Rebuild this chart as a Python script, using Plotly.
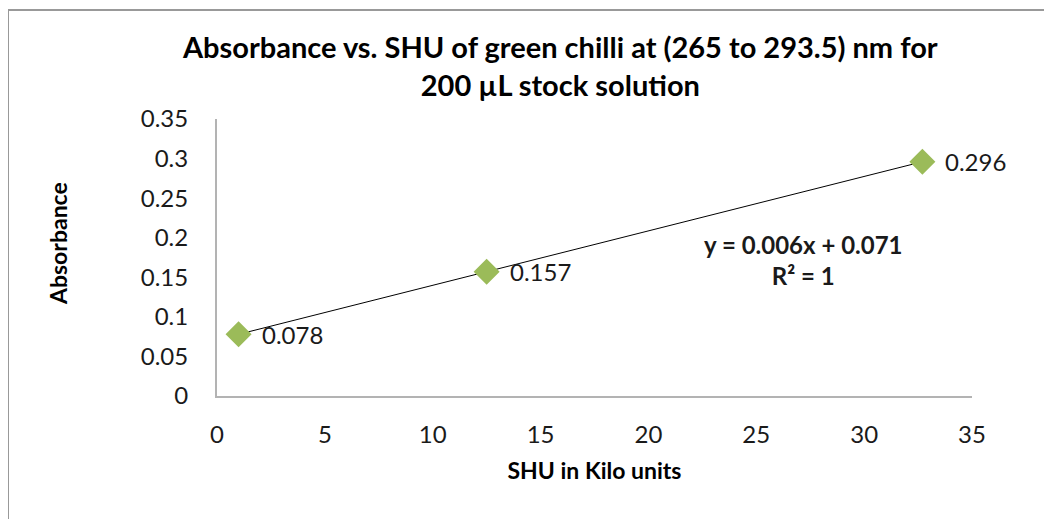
import numpy as np
import plotly.graph_objects as go

# Data
shu_kilo = [1.0, 12.5, 32.7]
absorbance = [0.078, 0.157, 0.296]
point_labels = ["0.078", "0.157", "0.296"]
x_ticks = [0, 5, 10, 15, 20, 25, 30, 35]
y_ticks = [0, 0.05, 0.1, 0.15, 0.2, 0.25, 0.3, 0.35]
y_tick_text = ["0", "0.05", "0.1", "0.15", "0.2", "0.25", "0.3", "0.35"]
equation_text = "y = 0.006x + 0.071<br>R² = 1"

FONT = "Lato"
W, H = 1052, 519
OFF = 8  # page body margin offset
ML, MR, MT, MB = 217 - OFF, 80 + OFF, 119 - OFF, 123 + OFF
PW = W - ML - MR
PH = H - MT - MB
Y0 = 396  # screen pixel of y=0


def px_x(sx):
    return (sx - 217) / PW


def px_y(sy):
    return (Y0 - sy) / PH


slope, intercept = np.polyfit(shu_kilo, absorbance, 1)
trend_x = [min(shu_kilo), max(shu_kilo)]
trend_y = [slope * v + intercept for v in trend_x]

fig = go.Figure()
fig.add_trace(go.Scatter(x=trend_x, y=trend_y, mode="lines",
                         line=dict(color="black", width=1), hoverinfo="skip",
                         showlegend=False))
fig.add_trace(go.Scatter(x=shu_kilo, y=absorbance, mode="markers",
                         marker=dict(symbol="diamond", size=20, color="#9BBB59"),
                         showlegend=False))

for xv, yv, t in zip(shu_kilo, absorbance, point_labels):
    fig.add_annotation(x=xv, y=yv, text=t, showarrow=False, xanchor="left",
                       yanchor="middle", xshift=21,
                       font=dict(family=FONT, size=24, color="#1a1a1a"))

fig.add_annotation(x=px_x(803), y=px_y(260), xref="paper", yref="paper",
                   text=equation_text, showarrow=False, align="center",
                   xanchor="center", yanchor="middle",
                   font=dict(family=FONT, size=24, color="#1a1a1a", weight="bold"))

fig.add_annotation(x=px_x(560), y=px_y(66), xref="paper", yref="paper",
                   text="Absorbance vs. SHU of green chilli at (265 to 293.5) nm for<br>200 µL stock solution",
                   showarrow=False, align="center", xanchor="center", yanchor="middle",
                   font=dict(family=FONT, size=29, color="black", weight="bold"))

# y-axis title
fig.add_annotation(x=px_x(58), y=px_y(244), xref="paper", yref="paper",
                   text="Absorbance", textangle=-90, showarrow=False,
                   xanchor="center", yanchor="middle",
                   font=dict(family=FONT, size=23, color="black", weight="bold"))

# outer frame (left and top edges visible)
x_left = px_x(8)
y_top = px_y(10)
fig.add_shape(type="line", xref="paper", yref="paper", x0=x_left, x1=x_left,
              y0=y_top, y1=-2, line=dict(color="#999999", width=2))
fig.add_shape(type="line", xref="paper", yref="paper", x0=x_left, x1=2,
              y0=y_top, y1=y_top, line=dict(color="#999999", width=2))

fig.update_layout(
    width=W, height=H,
    margin=dict(l=ML, r=MR, t=MT, b=MB),
    paper_bgcolor="white", plot_bgcolor="white",
    font=dict(family=FONT, size=24, color="#1a1a1a"),
    xaxis=dict(range=[0, 35], tickvals=x_ticks, showgrid=False, zeroline=False,
               showline=True, linecolor="#b3b3b3", linewidth=2, ticks="",
               ticklabelstandoff=16, tickfont=dict(size=24),
               title=dict(text="SHU in Kilo units", standoff=16,
                          font=dict(family=FONT, size=23, weight="bold", color="black"))),
    yaxis=dict(range=[0, 0.35], tickvals=y_ticks, ticktext=y_tick_text, showgrid=False,
               zeroline=False, showline=True, linecolor="#b3b3b3", linewidth=2,
               ticks="", ticklabelstandoff=22, tickfont=dict(size=24)),
)

fig.write_html("out.html")
